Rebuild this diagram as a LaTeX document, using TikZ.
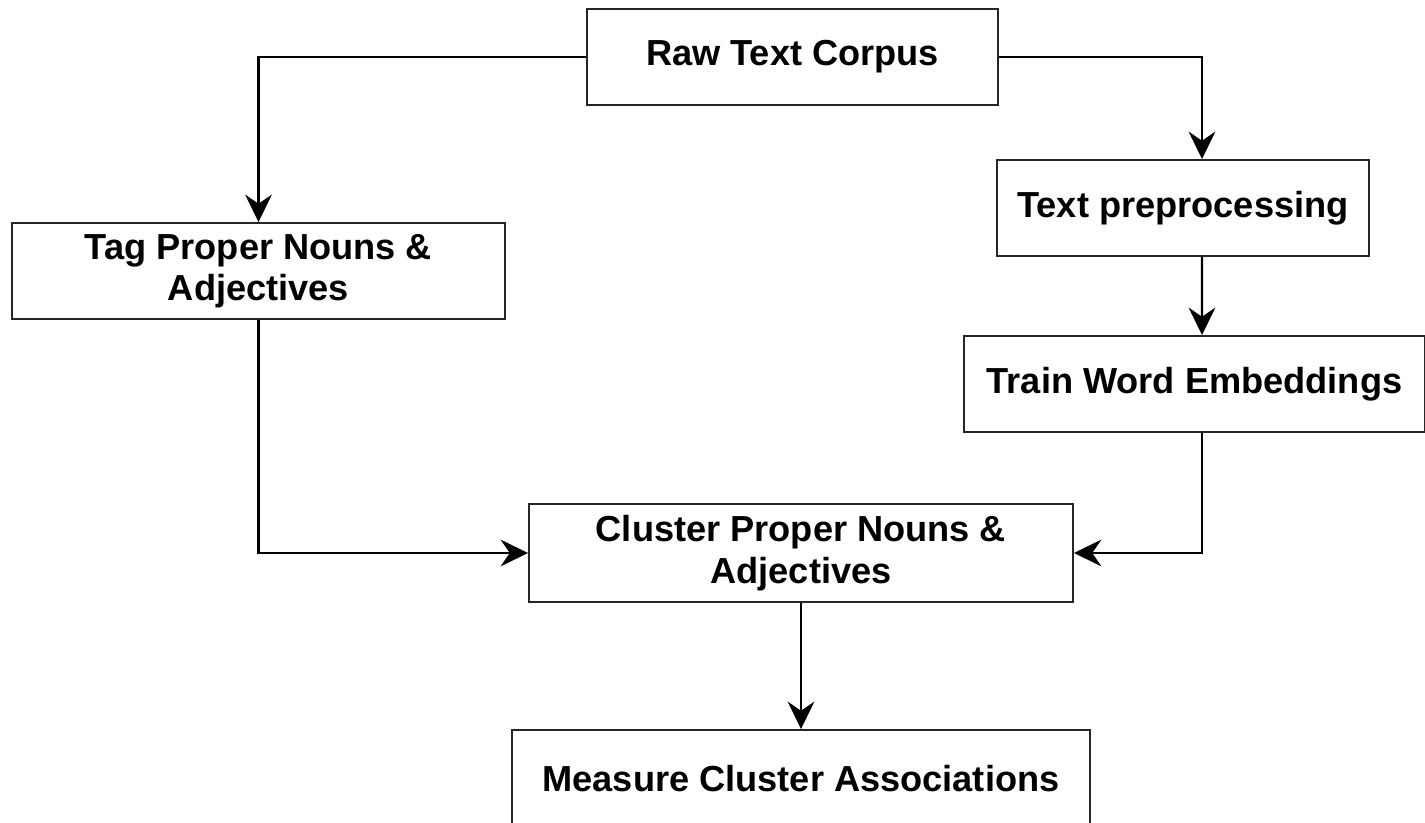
\documentclass[tikz,border=0pt]{standalone}
\usepackage{fontspec}
\setmainfont{Liberation Sans}
\usetikzlibrary{arrows.meta,positioning}
\definecolor{ink}{HTML}{000000}
\tikzset{
  >={Stealth[length=7.8pt,width=7.6pt,inset=2.6pt]},
  every node/.style={font=\fontsize{10.3pt}{11.8pt}\selectfont\bfseries,text=ink},
  box/.style={draw=ink!85,line width=0.55pt,fill=white,minimum height=9.6mm,align=center,inner sep=2pt},
  arrow/.style={->,line width=0.65pt,draw=ink},
}

\begin{document}
\begin{tikzpicture}[x=1cm,y=1cm]
  \useasboundingbox (0,0) rectangle (14.25,8.22);
  \node[box,minimum width=41.1mm] (raw) at (7.925,7.65) {Raw Text Corpus};
  \node[box,minimum width=37.2mm] (pre) at (11.83,6.14) {Text preprocessing};
  \node[box,minimum width=46.1mm] (train) at (11.945,4.38) {Train Word Embeddings};
  \node[box,minimum width=49.3mm] (tag) at (2.585,5.51) {Tag Proper Nouns \&\\Adjectives};
  \node[box,minimum width=54.4mm,minimum height=9.8mm] (clu) at (8.01,2.69) {Cluster Proper Nouns \&\\Adjectives};
  \node[box,minimum width=57.8mm,minimum height=9.8mm] (meas) at (8.01,0.43) {Measure Cluster Associations};

  \draw[arrow] (raw.west) -| (tag.north);
  \draw[arrow] (raw.east) -| ([xshift=1.9mm]pre.north);
  \draw[arrow] ([xshift=1.9mm]pre.south) -- ([xshift=0.75mm]train.north);
  \draw[arrow] (tag.south) |- (clu.west);
  \draw[arrow] ([xshift=0.75mm]train.south) |- (clu.east);
  \draw[arrow] (clu.south) -- (meas.north);
\end{tikzpicture}
\end{document}
